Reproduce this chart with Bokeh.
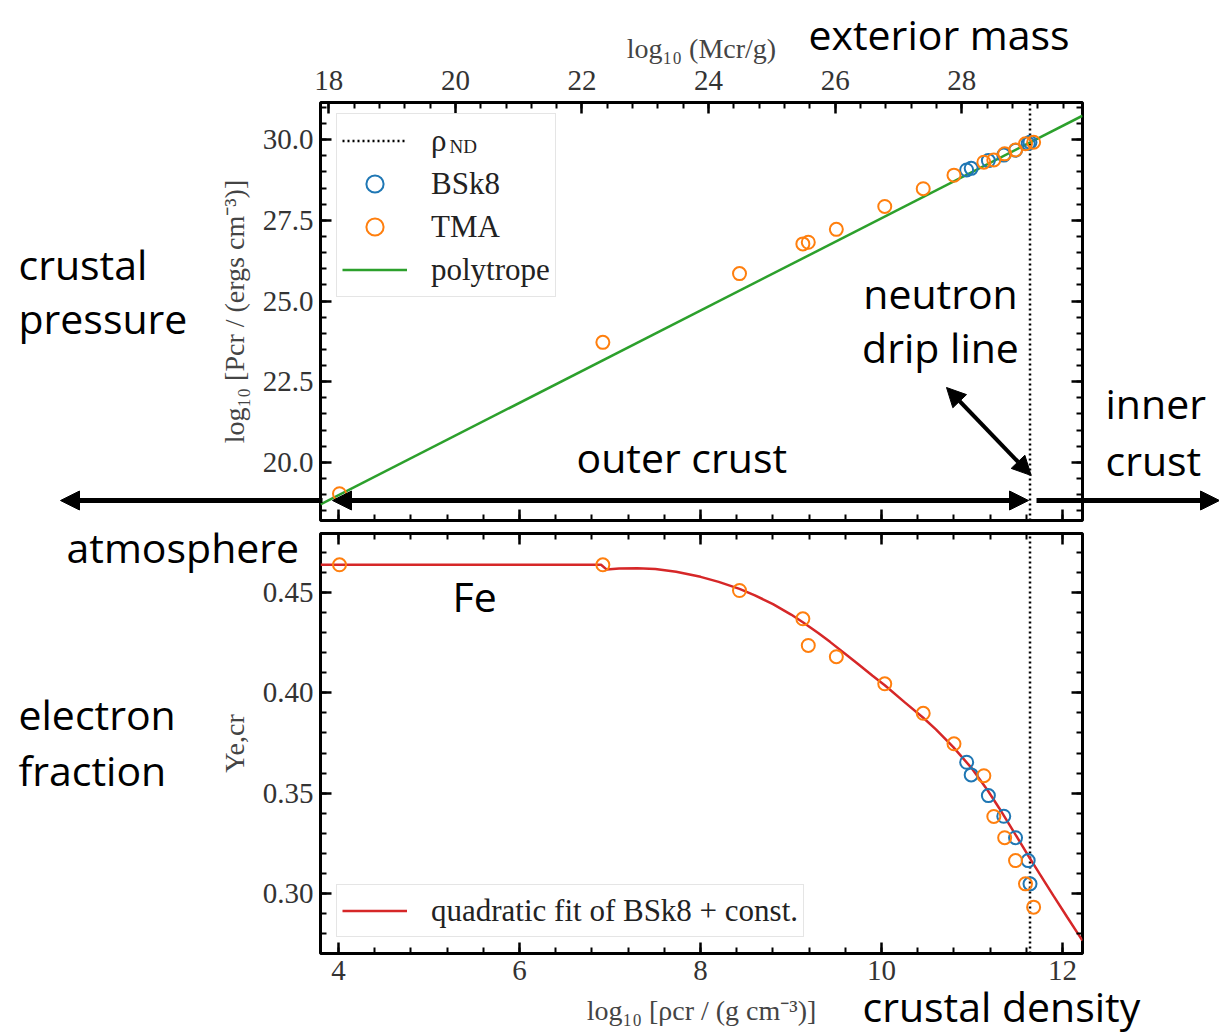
from bokeh.plotting import figure
from bokeh.models import (Range1d, LinearAxis, Label, Arrow, NormalHead, Legend,
                          LegendItem, SingleIntervalTicker, NumeralTickFormatter)
from bokeh.layouts import column
from bokeh.embed import file_html
from bokeh.resources import INLINE

# ---------------- data ----------------
rho_nd = 11.64

tma_rho = [4.01, 6.92, 8.43, 9.13, 9.19, 9.50, 10.035, 10.46, 10.80, 11.13, 11.24, 11.36, 11.48, 11.59, 11.68]
tma_logP = [19.03, 23.72, 25.85, 26.77, 26.82, 27.22, 27.93, 28.48, 28.90, 29.30, 29.37, 29.56, 29.68, 29.87, 29.92]
tma_Ye = [0.4638, 0.4638, 0.4510, 0.4369, 0.4236, 0.4180, 0.4045, 0.3898, 0.3746, 0.3587, 0.3384, 0.3278, 0.3164, 0.3048, 0.2932]

bsk8_rho = [10.94, 10.99, 11.18, 11.35, 11.48, 11.62, 11.64]
bsk8_logP = [29.06, 29.11, 29.35, 29.52, 29.67, 29.88, 29.92]
bsk8_Ye = [0.3654, 0.3591, 0.3488, 0.3385, 0.3278, 0.3164, 0.3048]

poly_rho = [3.8, 12.22]
poly_logP = [18.70, 30.74]

fit_rho = [3.8, 6.90, 6.96, 7.1, 7.3, 7.5, 7.73, 8.0, 8.2, 8.43, 8.6, 8.8, 9.0, 9.13, 9.3, 9.43, 9.6,
           9.75, 9.9, 10.035, 10.25, 10.46, 10.6, 10.79, 11.0, 11.175, 11.3, 11.4, 11.5, 11.62,
           11.75, 11.9, 12.05, 12.22]
fit_Ye = [0.4638, 0.4638, 0.4615, 0.4619, 0.4621, 0.4617, 0.4603, 0.4578, 0.4553, 0.4518, 0.4486,
          0.4442, 0.4390, 0.4352, 0.4298, 0.4254, 0.4194, 0.4140, 0.4085, 0.4038, 0.3955, 0.3876,
          0.3818, 0.3731, 0.3622, 0.3512, 0.3425, 0.3352, 0.3278, 0.3189, 0.3095, 0.2988, 0.2883,
          0.2765]

rho_range = (3.8, 12.22)
mass_range = (17.869, 29.907)
P_range = (18.2, 31.15)
Ye_range = (0.2701, 0.4794)

# annotation texts of the figure (page-pixel placement on an overlay canvas)
notes = [
    ("exterior mass", 808, 33, "left"),
    ("crustal", 18, 263, "left"),
    ("pressure", 18, 317, "left"),
    ("neutron", 940, 292, "center"),
    ("drip line", 940, 346, "center"),
    ("inner", 1105, 402, "left"),
    ("crust", 1105, 459, "left"),
    ("outer crust", 576, 456, "left"),
    ("atmosphere", 66, 546, "left"),
    ("Fe", 452, 595, "left"),
    ("electron", 18, 713, "left"),
    ("fraction", 18, 769, "left"),
    ("crustal density", 862, 1005, "left"),
]
# arrows: (x0, y0, x1, y1, head at start, head at end, width)
arrows = [
    (322, 500, 60, 500, False, True, 5),
    (332, 500, 1028, 500, True, True, 5),
    (1036, 500, 1219, 500, False, True, 5),
    (946, 387, 1030.7, 475, True, True, 4),
]

BLUE, ORANGE, GREEN, RED = "#1f77b4", "#ff7f0e", "#2ca02c", "#d62728"
SERIF = "Liberation Serif"
SANS = "Open Sans"


def style_axis(ax, show_labels=True, standoff=7):
    ax.axis_line_color = None
    ax.major_tick_in = 11
    ax.major_tick_out = 0
    ax.minor_tick_in = 6
    ax.minor_tick_out = 0
    ax.major_tick_line_width = 2.5
    ax.minor_tick_line_width = 2
    ax.major_tick_line_color = "black"
    ax.minor_tick_line_color = "black"
    ax.major_label_text_font = SERIF
    if show_labels:
        ax.major_label_text_color = "#333333"
        ax.major_label_text_font_size = "29px"
        ax.major_label_standoff = standoff
    else:
        ax.major_label_text_color = None
        ax.major_label_text_font_size = "1px"
        ax.major_label_standoff = 0
    ax.axis_label_text_font = SERIF
    ax.axis_label_text_font_style = "normal"
    ax.axis_label_text_color = "#444444"
    ax.axis_label_text_font_size = "28px"


def base_fig(frame_h, top, bottom, y_range):
    p = figure(frame_width=762, frame_height=frame_h,
               min_border_left=320, min_border_right=137,
               min_border_top=top, min_border_bottom=bottom,
               x_range=Range1d(*rho_range), y_range=Range1d(*y_range),
               output_backend="svg", toolbar_location=None)
    p.grid.visible = False
    p.outline_line_color = "black"
    p.outline_line_width = 3
    p.background_fill_color = "white"
    p.border_fill_color = "white"
    return p


# ---------------- top panel: pressure ----------------
p1 = base_fig(418, 102, 7, P_range)
p1.xaxis.ticker = SingleIntervalTicker(interval=2, num_minor_ticks=5)
style_axis(p1.xaxis[0], show_labels=False)
p1.yaxis.ticker = SingleIntervalTicker(interval=2.5, num_minor_ticks=5)
p1.yaxis.formatter = NumeralTickFormatter(format="0.0")
style_axis(p1.yaxis[0])
p1.yaxis.axis_label = "log₁₀ [Pcr / (ergs cm⁻³)]"
p1.yaxis.axis_label_standoff = 10

yr1 = LinearAxis(ticker=SingleIntervalTicker(interval=2.5, num_minor_ticks=5))
style_axis(yr1, show_labels=False)
p1.add_layout(yr1, "right")

p1.extra_x_ranges = {"mass": Range1d(*mass_range)}
top_ax = LinearAxis(x_range_name="mass", ticker=SingleIntervalTicker(interval=2, num_minor_ticks=5),
                    axis_label="log₁₀ (Mcr/g)")
style_axis(top_ax, standoff=13)
top_ax.axis_label_standoff = 4
p1.add_layout(top_ax, "above")

r_nd = p1.line(x=[rho_nd, rho_nd], y=[P_range[0], P_range[1]], line_color="black",
               line_width=2.5, line_dash="2 3")
r_poly = p1.line(x=poly_rho, y=poly_logP, line_color=GREEN, line_width=2.5)
r_b1 = p1.scatter(x=bsk8_rho, y=bsk8_logP, marker="circle", size=13, fill_color=None,
                  line_color=BLUE, line_width=2)
r_t1 = p1.scatter(x=tma_rho, y=tma_logP, marker="circle", size=13, fill_color=None,
                  line_color=ORANGE, line_width=2)

leg1 = Legend(items=[LegendItem(label="ρ", renderers=[r_nd]),
                     LegendItem(label="BSk8", renderers=[r_b1]),
                     LegendItem(label="TMA", renderers=[r_t1]),
                     LegendItem(label="polytrope", renderers=[r_poly])],
              location=(16, 223), margin=0, padding=5, spacing=0,
              glyph_width=65, glyph_height=43, label_height=43, label_standoff=24,
              label_text_font=SERIF, label_text_font_size="31px", label_text_color="#222222",
              border_line_color="#cccccc", border_line_width=1.5,
              background_fill_color="white", background_fill_alpha=0.85)
p1.add_layout(leg1, "center")

# ---------------- bottom panel: electron fraction ----------------
p2 = base_fig(420, 6, 81, Ye_range)
p2.xaxis.ticker = SingleIntervalTicker(interval=2, num_minor_ticks=5)
style_axis(p2.xaxis[0])
p2.xaxis.axis_label = "log₁₀ [ρcr / (g cm⁻³)]"
p2.xaxis.axis_label_standoff = 12
p2.yaxis.ticker = SingleIntervalTicker(interval=0.05, num_minor_ticks=5)
p2.yaxis.formatter = NumeralTickFormatter(format="0.00")
style_axis(p2.yaxis[0])
p2.yaxis.axis_label = "Ye,cr"
p2.yaxis.axis_label_standoff = 10

yr2 = LinearAxis(ticker=SingleIntervalTicker(interval=0.05, num_minor_ticks=5))
style_axis(yr2, show_labels=False)
p2.add_layout(yr2, "right")
xt2 = LinearAxis(ticker=SingleIntervalTicker(interval=2, num_minor_ticks=5))
style_axis(xt2, show_labels=False)
p2.add_layout(xt2, "above")

p2.line(x=[rho_nd, rho_nd], y=[Ye_range[0], Ye_range[1]], line_color="black",
        line_width=2.5, line_dash="2 3")
r_fit = p2.line(x=fit_rho, y=fit_Ye, line_color=RED, line_width=2.5)
p2.scatter(x=bsk8_rho, y=bsk8_Ye, marker="circle", size=13, fill_color=None,
           line_color=BLUE, line_width=2)
p2.scatter(x=tma_rho, y=tma_Ye, marker="circle", size=13, fill_color=None,
           line_color=ORANGE, line_width=2)

leg2 = Legend(items=[LegendItem(label="quadratic fit of BSk8 + const.", renderers=[r_fit])],
              location=(16, 16), margin=0, padding=5, spacing=0,
              glyph_width=65, glyph_height=41, label_height=41, label_standoff=24,
              label_text_font=SERIF, label_text_font_size="31px", label_text_color="#222222",
              border_line_color="#cccccc", border_line_width=1.5,
              background_fill_color="white", background_fill_alpha=0.85)
p2.add_layout(leg2, "center")

# ---------------- transparent overlay for the annotations ----------------
ov = figure(width=1219, height=1034, x_range=Range1d(0, 1219), y_range=Range1d(1034, 0),
            min_border=0, min_border_left=0, min_border_right=0, min_border_top=0,
            min_border_bottom=0, x_axis_type=None, y_axis_type=None,
            output_backend="svg", toolbar_location=None, margin=(-1034, 0, 0, 0))
ov.frame_align = False
ov.grid.visible = False
ov.outline_line_color = None
ov.background_fill_alpha = 0
ov.border_fill_alpha = 0

for text, x, y, align in notes:
    ov.add_layout(Label(x=x, y=y, text=text, text_font=SANS, text_font_size="41px",
                        text_color="black", text_align=align, text_baseline="alphabetic"))
# subscript of the legend's rho_ND entry
ov.add_layout(Label(x=449, y=146, text="ND", text_font=SERIF, text_font_size="19px",
                    text_color="#222222", text_baseline="alphabetic"))

for x0, y0, x1, y1, hs, he, w in arrows:
    mk = lambda: NormalHead(size=19, fill_color="black", line_color="black", line_width=1)
    ov.add_layout(Arrow(start=mk() if hs else None, end=mk() if he else None,
                        x_start=x0, y_start=y0, x_end=x1, y_end=y1,
                        line_width=w, line_color="black"))

layout = column(p1, p2, ov, spacing=0)
open("out.html", "w").write(file_html(layout, INLINE))
